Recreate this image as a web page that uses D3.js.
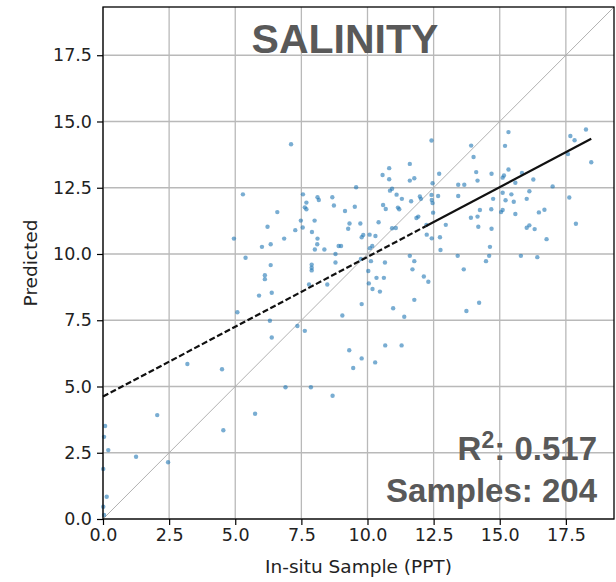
<!DOCTYPE html>
<html>
<head>
<meta charset="utf-8">
<script src="https://cdn.jsdelivr.net/npm/d3@7"></script>
<style>
  html, body { margin: 0; padding: 0; background: #fff; }
  svg { display: block; }
</style>
</head>
<body>
<svg id="chart" width="616" height="582"></svg>
<script>
// ---- data ----
const insitu = [
  0.08,0.04,0.2,0.01,0.14,0.01,0.04,1.25,2.05,2.46,3.19,4.5,4.55,5.08,5.75,6.9,7.86,6.31,6.38,7.35,7.63,5.9,6.38,7.79,8.68,
  4.95,7.11,5.29,7.56,9.57,8.11,8.16,8.67,7.69,7.63,7.69,8.73,9.52,9.15,6.59,6.22,7.48,8.0,7.27,7.55,7.9,6.85,9.32,9.27,9.73,9.84,9.78,10.08,8.11,6.34,8.1,6.01,8.01,8.37,8.91,9.0,8.79,10.18,10.09,5.39,
  6.34,6.12,6.12,7.89,7.89,7.89,8.79,8.48,9.75,10.03,10.05,9.78,9.05,9.31,9.78,9.46,
  12.42,13.92,14.01,11.6,10.82,10.57,10.82,11.6,11.77,12.71,14.11,14.69,14.16,12.46,13.43,13.66,10.85,10.93,11.1,11.3,11.98,12.02,12.42,12.43,12.67,11.65,10.59,10.69,11.15,11.2,11.92,11.85,12.46,13.43,14.75,12.48,13.91,14.16,14.25,14.68,12.96,14.19,14.69,10.42,10.93,11.07,12.23,12.24,12.43,12.74,10.3,11.6,12.76,13.41,14.63,14.6,
  10.13,10.66,11.77,11.7,10.34,10.62,12.13,12.3,10.19,10.47,11.77,10.97,11.39,14.48,13.64,14.22,13.74,10.67,11.29,10.29,
  15.33,15.2,17.67,17.83,18.26,17.58,18.46,15.33,15.16,15.11,15.84,16.27,15.59,17.0,15.11,15.44,16.12,15.22,15.53,16.02,17.63,15.11,15.05,15.59,16.48,16.69,17.88,16.02,16.12,16.32,16.77,15.8,16.42
];
const predicted = [
  3.51,3.1,2.6,1.89,0.84,0.46,0.15,2.35,3.92,2.14,5.85,5.65,3.35,7.8,3.97,4.97,4.97,7.48,6.85,7.28,7.1,8.43,8.54,8.85,4.65,
  10.58,14.14,12.25,12.25,12.52,12.14,12.04,12.14,11.94,11.76,11.69,11.83,11.78,11.62,11.58,11.03,11.26,11.26,10.9,11.0,10.83,10.58,11.15,10.95,11.15,10.72,10.63,10.73,10.58,10.37,10.37,10.27,10.17,10.17,10.3,10.3,10.0,10.3,10.22,9.86,
  9.58,9.2,9.05,9.6,9.48,9.38,9.68,8.85,9.81,9.36,8.89,8.11,7.68,6.37,6.06,5.7,
  14.28,14.09,13.66,13.4,13.24,12.98,12.82,12.77,12.86,13.03,13.09,13.03,12.77,12.67,12.61,12.61,12.39,12.46,12.24,12.08,12.17,12.08,12.23,12.04,12.19,11.99,11.85,11.7,11.75,11.69,11.41,11.36,11.92,12.19,12.08,11.56,11.37,11.41,11.66,11.69,11.1,11.03,10.95,11.2,10.97,10.98,11.1,10.73,10.59,10.63,10.68,9.93,10.15,9.93,10.27,9.93,
  9.73,9.68,9.73,9.42,9.1,9.1,9.15,8.95,8.68,8.58,8.27,7.95,7.63,9.73,9.42,8.16,7.85,6.55,6.55,5.91,
  14.6,14.08,14.45,14.29,14.7,13.77,13.46,13.19,12.96,12.88,13.06,12.81,12.69,12.55,12.31,12.25,12.37,12.03,11.97,12.08,12.13,11.66,11.58,11.51,11.57,11.67,11.14,10.99,11.08,10.94,10.56,9.93,9.88
];
const tickValues = [0, 2.5, 5, 7.5, 10, 12.5, 15, 17.5];
const axisMax = 19.32;
const fitIntercept = 4.62;
const fitSlope = 0.527;
const fitDashEnd = 12.2;   // dashed part of the fit ends here
const fitEnd = 18.46;      // fit drawn up to the largest sample
const titleText = "SALINITY";
const r2Text = "0.517";
const samplesText = "Samples: 204";
const xLabel = "In-situ Sample (PPT)";
const yLabel = "Predicted";

// ---- layout ----
const svg = d3.select("#chart");
const L = 103, T = 7, R = 614, B = 519;
const x = d3.scaleLinear().domain([0, axisMax]).range([L, R]);
const y = d3.scaleLinear().domain([0, axisMax]).range([B, T]);

const gridColor = "#b9b9b9";
// grid
svg.append("g").selectAll("line").data(tickValues).join("line")
  .attr("x1", d => x(d)).attr("x2", d => x(d)).attr("y1", T).attr("y2", B)
  .attr("stroke", gridColor).attr("stroke-width", 1.3);
svg.append("g").selectAll("line").data(tickValues).join("line")
  .attr("y1", d => y(d)).attr("y2", d => y(d)).attr("x1", L).attr("x2", R)
  .attr("stroke", gridColor).attr("stroke-width", 1.3);

// 1:1 line
svg.append("line")
  .attr("x1", x(0)).attr("y1", y(0)).attr("x2", x(axisMax)).attr("y2", y(axisMax))
  .attr("stroke", "#a8a8a8").attr("stroke-width", 0.9);

// points
const pts = insitu.map((v, i) => [v, predicted[i]]);
svg.append("g").selectAll("circle").data(pts).join("circle")
  .attr("cx", d => x(d[0])).attr("cy", d => y(d[1])).attr("r", 2.2)
  .attr("fill", "#1f77b4").attr("fill-opacity", 0.6);

// fit line
const fit = v => fitIntercept + fitSlope * v;
svg.append("line")
  .attr("x1", x(0)).attr("y1", y(fit(0))).attr("x2", x(fitDashEnd)).attr("y2", y(fit(fitDashEnd)))
  .attr("stroke", "#111").attr("stroke-width", 2.2).attr("stroke-dasharray", "6,2.6");
svg.append("line")
  .attr("x1", x(fitDashEnd)).attr("y1", y(fit(fitDashEnd))).attr("x2", x(fitEnd)).attr("y2", y(fit(fitEnd)))
  .attr("stroke", "#111").attr("stroke-width", 2.2);

// axes
const fmt = d3.format(".1f");
const xAxis = svg.append("g").attr("transform", `translate(0,${B})`)
  .call(d3.axisBottom(x).tickValues(tickValues).tickFormat(fmt).tickSize(6).tickPadding(4));
const yAxis = svg.append("g").attr("transform", `translate(${L},0)`)
  .call(d3.axisLeft(y).tickValues(tickValues).tickFormat(fmt).tickSize(6).tickPadding(5));
[xAxis, yAxis].forEach(g => {
  g.select(".domain").remove();
  g.selectAll(".tick line").attr("stroke", "#000").attr("stroke-width", 1.2);
  g.selectAll(".tick text").attr("fill", "#222")
    .style("font-family", "'DejaVu Sans', sans-serif").style("font-size", "17.5px");
});

// frame
svg.append("rect").attr("x", L).attr("y", T).attr("width", R - L).attr("height", B - T)
  .attr("fill", "none").attr("stroke", "#000").attr("stroke-width", 1.3);

// axis labels
svg.append("text").attr("x", (L + R) / 2).attr("y", 573).attr("text-anchor", "middle")
  .attr("fill", "#222").style("font-family", "'DejaVu Sans', sans-serif").style("font-size", "18.5px")
  .text(xLabel);
svg.append("text").attr("transform", `translate(37,${(T + B) / 2}) rotate(-90)`).attr("text-anchor", "middle")
  .attr("fill", "#222").style("font-family", "'DejaVu Sans', sans-serif").style("font-size", "18.5px")
  .text(yLabel);

// title & annotations
const annFont = "'Liberation Sans', Arial, sans-serif";
svg.append("text").attr("x", 345).attr("y", 53).attr("text-anchor", "middle")
  .attr("fill", "#595959").style("font-family", annFont).style("font-weight", "bold").style("font-size", "41px")
  .text(titleText);
const r2 = svg.append("text").attr("x", 597).attr("y", 460).attr("text-anchor", "end")
  .attr("fill", "#595959").style("font-family", annFont).style("font-weight", "bold").style("font-size", "33px");
r2.append("tspan").text("R");
r2.append("tspan").text("2").attr("dy", -12).style("font-size", "23px");
r2.append("tspan").text(": " + r2Text).attr("dy", 12);
svg.append("text").attr("x", 597).attr("y", 502).attr("text-anchor", "end")
  .attr("fill", "#595959").style("font-family", annFont).style("font-weight", "bold").style("font-size", "33px")
  .text(samplesText);
</script>
</body>
</html>
